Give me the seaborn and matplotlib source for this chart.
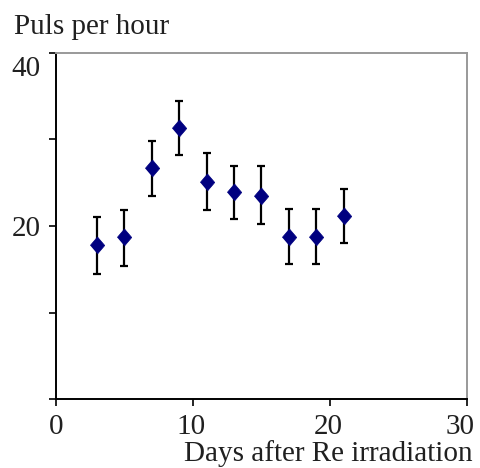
import matplotlib
matplotlib.use("Agg")
import matplotlib.pyplot as plt
import matplotlib.transforms as mtransforms
import seaborn as sns
import pandas as pd

# Pulse rate measured after Re irradiation
days = [3, 5, 7, 9, 11, 13, 15, 17, 19, 21]
pulses = [17.8, 18.7, 26.7, 31.3, 25.1, 23.9, 23.5, 18.7, 18.7, 21.1]
err_low = [3.3, 3.3, 3.2, 3.1, 3.2, 3.1, 3.3, 3.1, 3.1, 3.1]
err_high = [3.2, 3.2, 3.1, 3.2, 3.3, 3.0, 3.4, 3.3, 3.3, 3.2]

x_ticks = [0, 10, 20, 30]
y_ticks = [0, 10, 20, 30, 40]
y_tick_labels = ["", "", "20", "", "40"]

df = pd.DataFrame({"day": days, "puls": pulses})

sns.set_style("ticks")
plt.rcParams["font.family"] = ["Liberation Serif", "DejaVu Serif"]

fig = plt.figure(figsize=(4.81, 4.68), dpi=100)
ax = fig.add_axes([0.1164, 0.1474, 0.8545, 0.7394])

ax.errorbar(days, pulses, yerr=[err_low, err_high], fmt="none",
            ecolor="black", elinewidth=1.6, capsize=3.0, capthick=1.6, zorder=2)

diamond = [(0, -1), (0.85, 0), (0, 1), (-0.85, 0)]
sns.scatterplot(data=df, x="day", y="puls", marker=diamond, s=150,
                color="#000080", edgecolor="#000080", linewidth=0.5,
                ax=ax, zorder=3, legend=False)

ax.set_xlim(0, 30)
ax.set_ylim(0, 40)
ax.set_xticks(x_ticks)
ax.set_xticklabels([str(t) for t in x_ticks])
ax.set_yticks(y_ticks)
ax.set_yticklabels(y_tick_labels)
ax.set_xlabel("")
ax.set_ylabel("")

ax.tick_params(axis="both", direction="out", length=5, width=1.2,
               color="black", labelsize=21, labelcolor="#202020")
ax.tick_params(axis="y", pad=6)
ax.tick_params(axis="x", pad=6)

def shift(label, dx_px, dy_px):
    label.set_transform(label.get_transform() +
                        mtransforms.ScaledTranslation(dx_px / 100, dy_px / 100,
                                                      fig.dpi_scale_trans))

# top label sits just below its tick, inside the axis span
top_label = ax.get_yticklabels()[-1]
top_label.set_va("top")
shift(top_label, 0, -3)

# x labels sit slightly left; the last one is pulled in from the edge
xlabels = ax.get_xticklabels()
for lbl in xlabels[1:-1]:
    shift(lbl, -2, 0)
shift(xlabels[-1], -7, 0)

for side in ["left", "bottom"]:
    ax.spines[side].set_color("black")
    ax.spines[side].set_linewidth(1.4)
for side in ["top", "right"]:
    ax.spines[side].set_visible(True)
    ax.spines[side].set_color("#999999")
    ax.spines[side].set_linewidth(1.4)

fig.text(14 / 481, 1 - 34 / 468, "Puls per hour", fontsize=21,
         color="#202020", ha="left", va="baseline")
fig.text(473 / 481, 1 - 461 / 468, "Days after Re irradiation", fontsize=21,
         color="#202020", ha="right", va="baseline")

fig.savefig("out.png", dpi=100)
